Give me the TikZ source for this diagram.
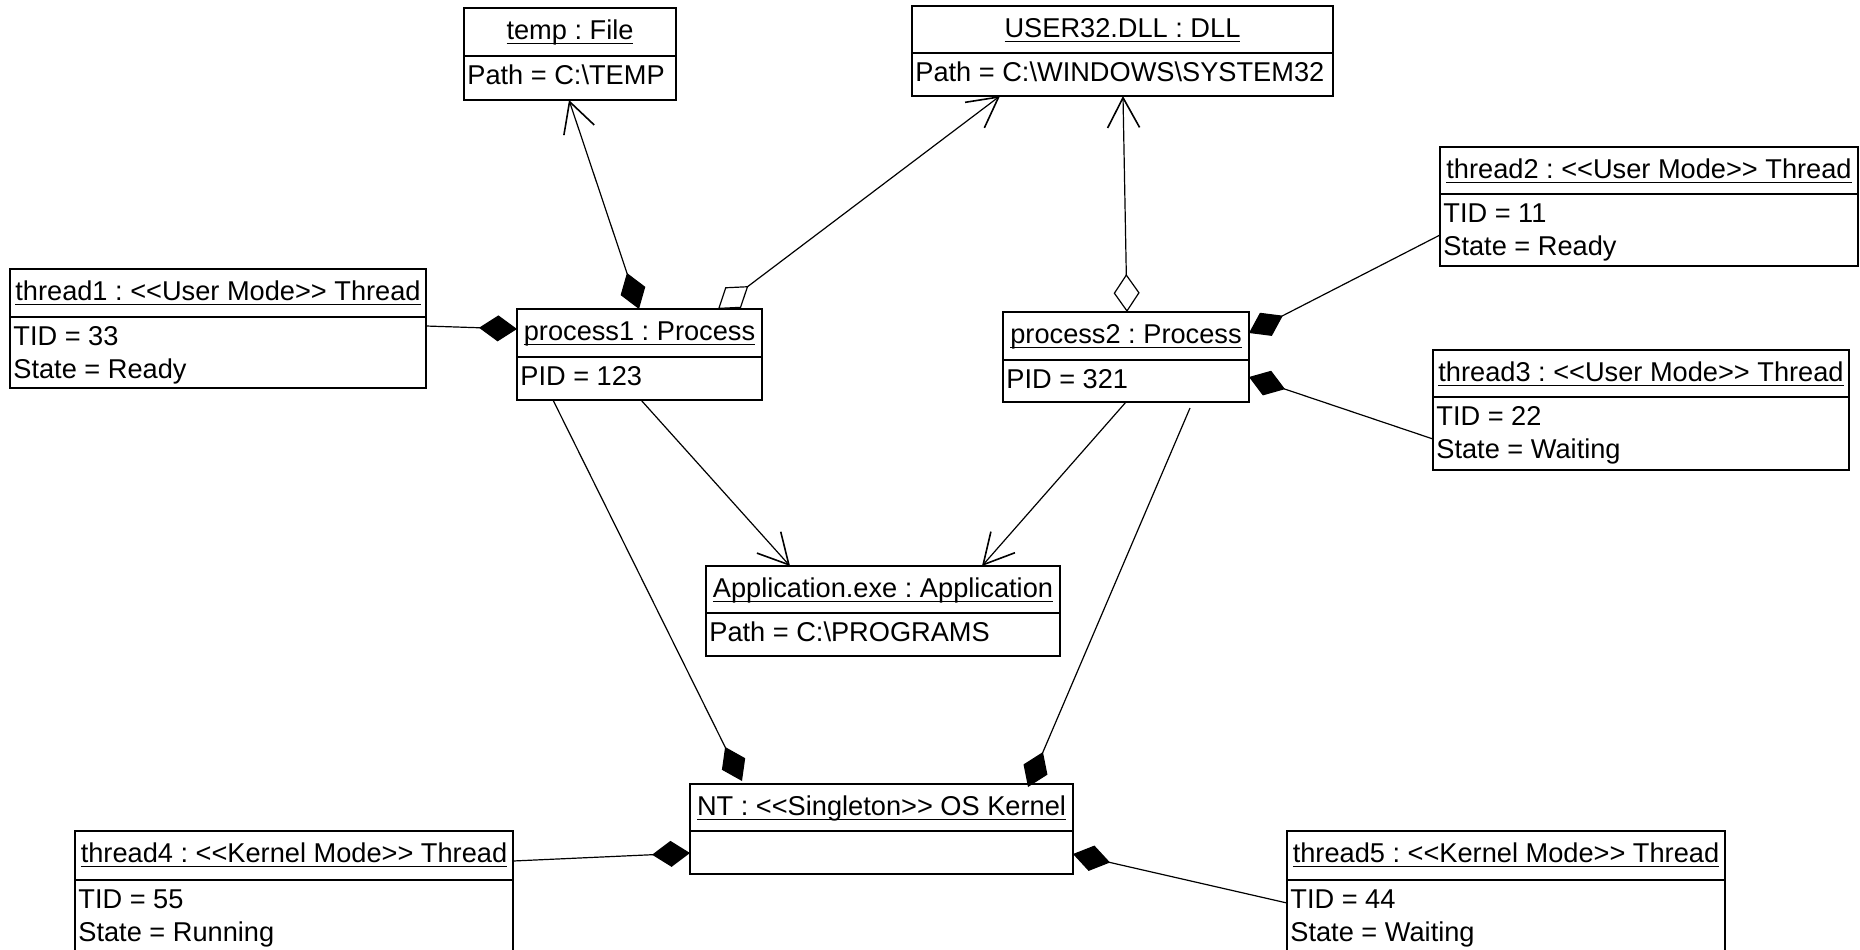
\documentclass[tikz,border=0pt]{standalone}
\usepackage{fontspec}
\setmainfont{Liberation Sans}
\usetikzlibrary{arrows.meta,calc,fit}
\frenchspacing

% underline at a fixed distance below the baseline
\newcommand\uln[1]{\setbox0\hbox{#1}\rlap{\rule[-2.6pt]{\wd0}{0.75pt}}\box0}
% stereotype brackets, kept apart so they are not joined into guillemets
\newcommand\lgu{<\kern0pt<}
\newcommand\rgu{>\kern0pt>}

\tikzset{
  objbox/.style={draw, line width=1pt, inner sep=0pt, outer sep=0pt},
  objrule/.style={line width=1pt},
  objtitle/.style={anchor=base, inner sep=0pt, font=\fontsize{13.6pt}{16pt}\selectfont},
  objattr/.style={anchor=base west, inner sep=0pt, font=\fontsize{13.6pt}{16pt}\selectfont},
  link/.style={line width=0.6pt, line join=miter},
  ucomp/.tip={Diamond[length=19pt,width=13pt]},
  uagg/.tip={Diamond[open,fill=white,length=19pt,width=13pt]},
  unav/.tip={Straight Barb[length=15pt,width=16pt,line width=0.8pt]},
}

% object box: name, left, top, right, divider, bottom, title
\newcommand\umlobj[7]{%
  \coordinate (#1-nw) at (#2,#3);
  \coordinate (#1-se) at (#4,#6);
  \node[objbox, fit=(#1-nw)(#1-se)] (#1) {};
  \draw[objrule] (#2,#5) -- (#4,#5);
  \node[objtitle] (#1-title) at ({(#2+#4)/2},{#3+31}) {\uln{#7}};
}

\begin{document}
\begin{tikzpicture}[x=0.5pt, y=-0.5pt]
\useasboundingbox (0,0) rectangle (1860,949);
\clip (0,0) rectangle (1860,949);

% ---- objects ----
\umlobj{temp}{464}{8}{676}{56}{100}{temp : File}
\node[objattr] (temp-a1) at (467,84) {Path = C:\textbackslash TEMP};

\umlobj{dll}{912}{6}{1333}{53}{96}{USER32.DLL : DLL}
\node[objattr] (dll-a1) at (915,81) {Path = C:\textbackslash WINDOWS\textbackslash SYSTEM32};

\umlobj{th2}{1440}{147}{1858}{194}{266}{thread2 : \lgu User Mode\rgu{} Thread}
\node[objattr] (th2-a1) at (1443,222) {TID = 11};
\node[objattr] (th2-a2) at (1443,255) {State = Ready};

\umlobj{th1}{10}{269}{426}{317}{388}{thread1 : \lgu User Mode\rgu{} Thread}
\node[objattr] (th1-a1) at (13,345) {TID = 33};
\node[objattr] (th1-a2) at (13,378) {State = Ready};

\umlobj{p1}{517}{309}{762}{357}{400}{process1 : Process}
\node[objattr] (p1-a1) at (520,385) {PID = 123};

\umlobj{p2}{1003}{312}{1249}{360}{402}{process2 : Process}
\node[objattr] (p2-a1) at (1006,388) {PID = 321};

\umlobj{th3}{1433}{350}{1849}{397}{470}{thread3 : \lgu User Mode\rgu{} Thread}
\node[objattr] (th3-a1) at (1436,425) {TID = 22};
\node[objattr] (th3-a2) at (1436,458) {State = Waiting};

\umlobj{app}{706}{566}{1060}{613}{656}{Application.exe : Application}
\node[objattr] (app-a1) at (709,641) {Path = C:\textbackslash PROGRAMS};

\umlobj{nt}{690}{784}{1073}{831}{874}{NT : \lgu Singleton\rgu{} OS Kernel}

\umlobj{th4}{75}{831}{513}{880}{952}{thread4 : \lgu Kernel Mode\rgu{} Thread}
\node[objattr] (th4-a1) at (78,908) {TID = 55};
\node[objattr] (th4-a2) at (78,941) {State = Running};

\umlobj{th5}{1287}{831}{1725}{880}{952}{thread5 : \lgu Kernel Mode\rgu{} Thread}
\node[objattr] (th5-a1) at (1290,908) {TID = 44};
\node[objattr] (th5-a2) at (1290,941) {State = Waiting};

% ---- links ----
\draw[link, ucomp-unav] ($(p1.north west)+(122,0)$) -- ($(temp.south west)+(105,0)$);
\draw[link, uagg-unav]  ($(p1.north west)+(201,0)$) -- ($(dll.south west)+(88,0)$);
\draw[link, -ucomp]     ($(th1.north east)+(0,57)$) -- ($(p1.north west)+(0,20)$);
\draw[link, -unav]      ($(p1.south west)+(124,0)$) -- ($(app.north west)+(84,0)$);
\draw[link, -ucomp]     ($(p1.south west)+(36,0)$)  -- ($(nt.north west)+(52,-3)$);

\draw[link, uagg-unav]  ($(p2.north west)+(124,0)$) -- ($(dll.south west)+(211,0)$);
\draw[link, -ucomp]     ($(th2.north west)+(0,88)$) -- ($(p2.north east)+(0,21)$);
\draw[link, -ucomp]     ($(th3.north west)+(0,89)$) -- ($(p2.north east)+(0,65)$);
\draw[link, -unav]      ($(p2.south west)+(123,0)$) -- ($(app.north west)+(276,0)$);
\draw[link, -ucomp]     ($(p2.south west)+(187,6)$) -- ($(nt.north west)+(338,3)$);

\draw[link, -ucomp]     ($(th4.north east)+(0,30)$) -- ($(nt.north west)+(0,69)$);
\draw[link, -ucomp]     ($(th5.north west)+(0,72)$) -- ($(nt.north east)+(0,70)$);
\end{tikzpicture}
\end{document}
